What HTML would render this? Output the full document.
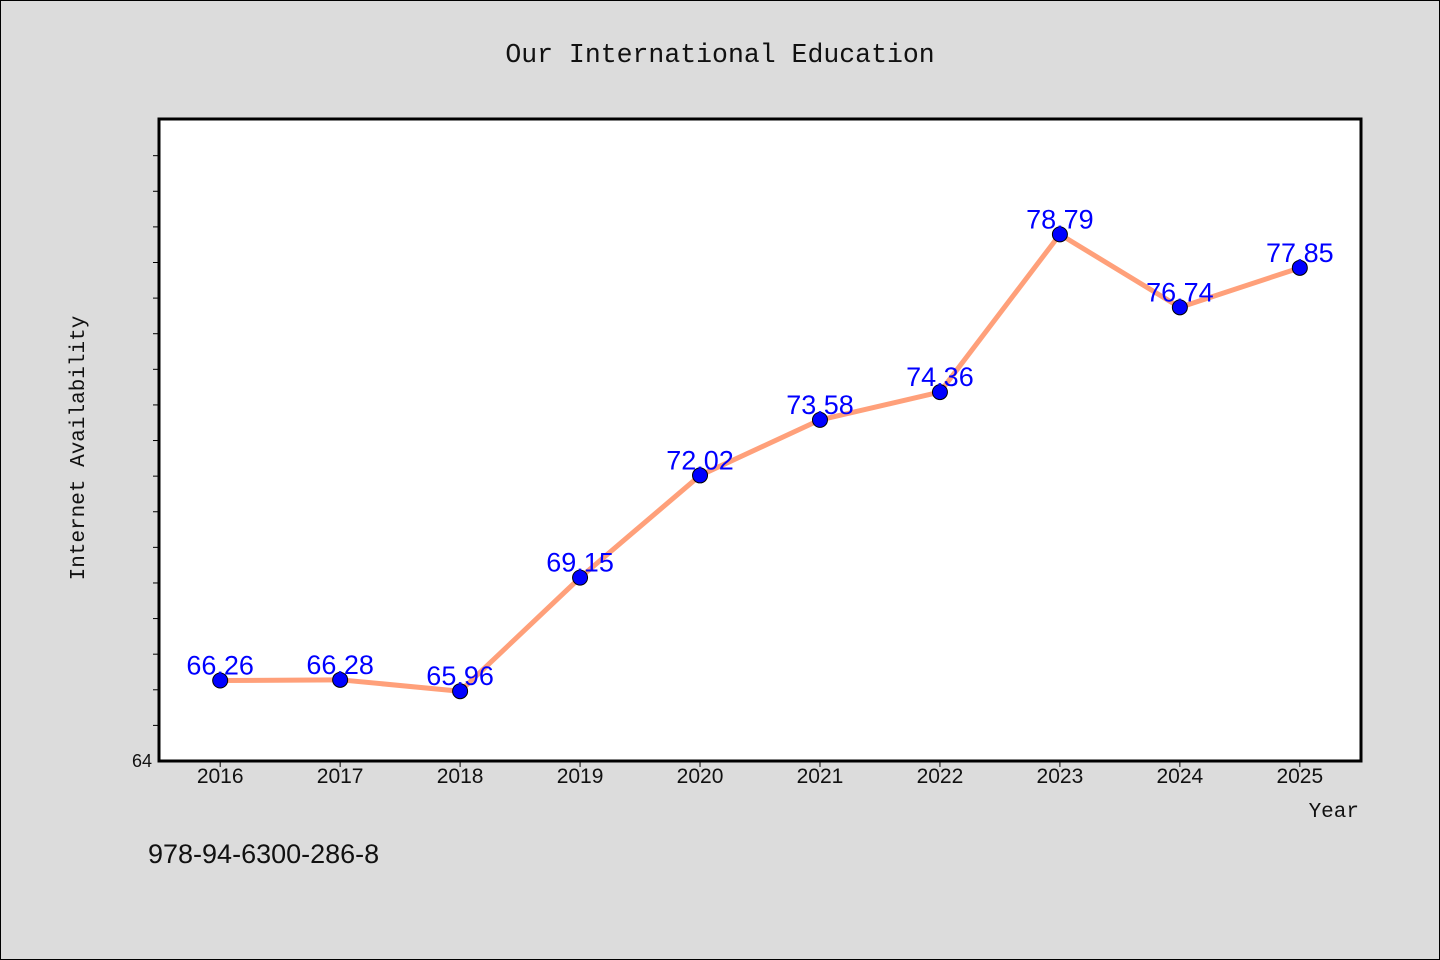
<!DOCTYPE html>
<html><head><meta charset="utf-8"><style>
body{margin:0;background:#dcdcdc;}
svg{display:block;font-family:"WenQuanYi Zen Hei","Liberation Sans",sans-serif;}
</style></head><body>
<svg id="chart" width="1440" height="960">
<rect x="0.5" y="0.5" width="1439" height="959" fill="#dcdcdc" stroke="#000"/>
<text x="720" y="62" text-anchor="middle" font-family="Liberation Mono, monospace" font-size="26.5" fill="#111">Our International Education</text>
<rect x="159" y="119" width="1202" height="642" fill="#fff" stroke="#000" stroke-width="3"/>
<g id="yticks"></g>
<g id="xticks"></g>
<text transform="translate(84,448) rotate(-90)" text-anchor="middle" font-family="Liberation Mono, monospace" font-size="21" fill="#111">Internet Availability</text>
<text x="1359" y="817" text-anchor="end" font-family="Liberation Mono, monospace" font-size="21" fill="#111">Year</text>
<g id="series"></g>
<text x="148" y="863" font-size="27" fill="#111">978-94-6300-286-8</text>
</svg>
<script>
const years = [2016,2017,2018,2019,2020,2021,2022,2023,2024,2025];
const values = [66.26,66.28,65.96,69.15,72.02,73.58,74.36,78.79,76.74,77.85];
const labels = ["66.26","66.28","65.96","69.15","72.02","73.58","74.36","78.79","76.74","77.85"];
const yMin = 64, yMax = 82.03;
const ns = "http://www.w3.org/2000/svg";
const L=159,R=1361,T=119,B=761;
const xs = v => L + (v-2015.49)/(2025.51-2015.49)*(R-L);
const ys = v => B - (v-yMin)/(yMax-yMin)*(B-T);
function mk(tag, attrs, parent){const e=document.createElementNS(ns,tag);for(const k in attrs)e.setAttribute(k,attrs[k]);parent.appendChild(e);return e;}
const yg=document.getElementById('yticks'), xg=document.getElementById('xticks'), sg=document.getElementById('series');
for(let v=65; v<=81; v++){
  const t=mk('line',{x1:153,x2:159,y1:ys(v),y2:ys(v),stroke:'#000','stroke-width':1},yg);
  
  
}
const yl=mk('text',{x:152,y:767,'text-anchor':'end','font-size':18,fill:'#111'},yg);
yl.textContent='64';


years.forEach(y=>{
  const t=mk('line',{x1:xs(y),x2:xs(y),y1:761,y2:767,stroke:'#000','stroke-width':1},xg);
  
  
  const l=mk('text',{x:xs(y),y:783,'text-anchor':'middle','font-size':21,fill:'#111'},xg);
  l.textContent=String(y);
  
  
});
const pts=years.map((y,i)=>xs(y)+','+ys(values[i])).join(' ');
const line=mk('polyline',{points:pts,fill:'none',stroke:'#ffa07a','stroke-width':5,'stroke-linejoin':'round'},sg);


years.forEach((y,i)=>{
  const c=mk('circle',{cx:xs(y),cy:ys(values[i]),r:7.5,fill:'#0000ff',stroke:'#000','stroke-width':1},sg);
  
  
});
years.forEach((y,i)=>{
  const t=mk('text',{x:xs(y),y:ys(values[i])-6,'text-anchor':'middle','font-size':27,fill:'#0000ff'},sg);
  t.textContent=labels[i];
  
  
});
</script>
</body></html>
